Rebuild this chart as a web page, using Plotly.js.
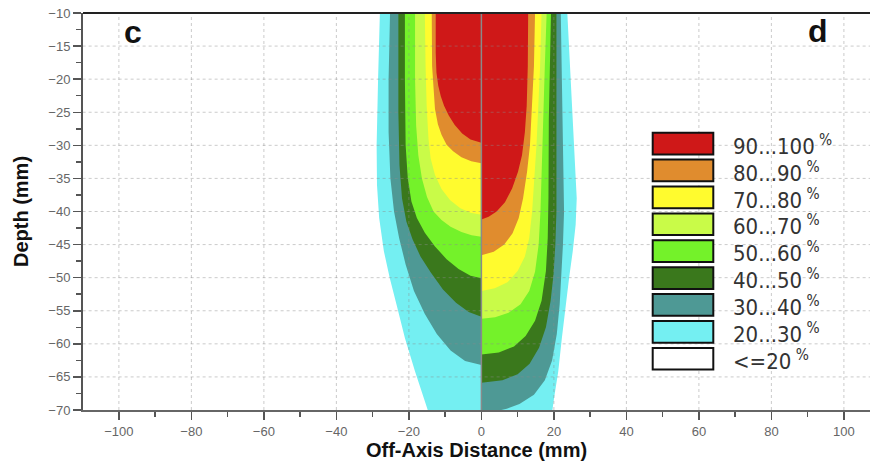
<!DOCTYPE html>
<html>
<head>
<meta charset="utf-8">
<script src="https://cdn.plot.ly/plotly-3.0.1.min.js"></script>
<style>html,body{margin:0;padding:0;background:#fff;}#chart{width:870px;height:464px;}</style>
</head>
<body>
<div id="chart"></div>
<script>
// ---- Legend / levels ----
const levelLabels = ['90...100', '80...90', '70...80', '60...70', '50...60', '40...50', '30...40', '20...30', '<=20'];
const levelColors = ['#cf1818', '#e08c2e', '#fffb2e', '#c9fb48', '#74f22a', '#3a781c', '#4e9995', '#74eff2', '#ffffff'];

// ---- Panel c (left, x<0): isodose boundaries, top -> bottom (x mm, depth mm) ----
const c90x = [-12.6, -12.6, -12.4, -11.9, -11.2, -10.3, -9.0, -7.4, -5.3, -3.0, 0];
const c90y = [-10, -16, -19, -21, -22.6, -24, -25.5, -26.9, -28.2, -29.1, -29.6];
const c80x = [-13.7, -13.6, -13.2, -12.8, -12.0, -11.0, -9.6, -7.8, -5.5, -2.8, 0];
const c80y = [-10, -18, -22, -24.5, -26.8, -28.4, -29.9, -30.9, -31.8, -32.4, -32.7];
const c70x = [-15.6, -15.4, -15.1, -14.6, -14.0, -12.8, -11.0, -8.6, -5.8, -3.0, 0];
const c70y = [-10, -18, -24, -29, -32, -34.5, -36.6, -38.3, -39.5, -40.2, -40.5];
const c60x = [-18.3, -18.3, -18.0, -17.4, -16.4, -15.0, -13.2, -11.0, -8.5, -5.5, -2.7, 0];
const c60y = [-10, -20, -27, -31.5, -35, -37.8, -40, -41.3, -42.3, -43.1, -43.6, -43.8];
const c50x = [-21.1, -21.1, -20.9, -20.3, -19.3, -17.8, -15.6, -12.8, -9.6, -6.3, -3.0, 0];
const c50y = [-10, -20, -30, -35, -38.5, -41, -43.2, -45.3, -47.2, -48.7, -49.7, -50.1];
const c40x = [-22.9, -22.9, -22.6, -21.9, -20.7, -19.0, -16.8, -14.0, -10.6, -7.0, -3.5, 0];
const c40y = [-10, -25, -33, -38, -41.5, -44.2, -46.8, -49.2, -51.8, -53.8, -55.2, -55.9];
const c30x = [-25.2, -25.6, -25.6, -25.1, -24.1, -22.7, -20.9, -18.6, -15.6, -12.3, -8.5, -4.5, 0];
const c30y = [-10, -20, -28, -35, -40, -44, -48, -52, -55.5, -58.5, -61, -62.6, -63.2];
const c20x = [-28.0, -28.5, -28.9, -28.8, -28.2, -26.9, -25.3, -23.4, -21.1, -18.3, -15.1, -14.8];
const c20y = [-10, -20, -30, -36, -41, -46, -50, -54.1, -59.1, -64.2, -69.2, -70];

// ---- Panel d (right, x>0) ----
const d90x = [12.9, 12.8, 12.5, 12.0, 11.2, 10.1, 8.5, 6.5, 4.2, 2.0, 0];
const d90y = [-10, -18, -24, -28, -31.5, -34, -36.5, -38.6, -40, -40.8, -41.2];
const d80x = [14.8, 14.5, 14.0, 13.4, 12.6, 11.5, 10.3, 8.6, 6.3, 3.4, 0];
const d80y = [-10, -18, -24, -30, -34, -38, -41, -43.3, -45, -46.1, -46.6];
const d70x = [16.6, 16.2, 15.7, 15.2, 14.6, 14.0, 13.2, 12.0, 10.0, 7.2, 3.7, 0];
const d70y = [-10, -18, -24, -30, -35, -40, -44, -46.8, -49, -50.7, -51.6, -52];
const d60x = [18.0, 17.5, 17.0, 16.7, 16.3, 15.8, 14.8, 13.2, 10.8, 7.5, 3.8, 0];
const d60y = [-10, -18, -24, -32, -40, -45, -49.1, -52, -54, -55.3, -56, -56.2];
const d50x = [19.2, 18.8, 18.6, 18.5, 18.3, 17.8, 16.6, 14.8, 12.2, 9.0, 4.8, 0];
const d50y = [-10, -18, -26, -38, -44, -49, -53.5, -56.5, -58.8, -60.4, -61.3, -61.6];
const d40x = [20.7, 20.7, 20.4, 19.9, 19.1, 17.8, 15.9, 13.3, 10.0, 5.8, 0];
const d40y = [-10, -40, -45, -49.5, -53.5, -57.5, -60.6, -63, -64.6, -65.5, -65.9];
const d30x = [21.9, 22.3, 22.6, 22.8, 22.5, 22.1, 21.6, 20.8, 19.5, 17.5, 14.5, 10.5, 7.0, 5.5];
const d30y = [-10, -24, -34, -40, -45, -49.5, -54, -58.5, -62.5, -65.5, -67.7, -69.1, -69.8, -70];
const d20x = [23.7, 24.9, 25.8, 26.3, 26.0, 25.2, 24.2, 23.2, 22.2, 21.2, 20.1, 19.6];
const d20y = [-10, -24, -33, -38, -42, -46, -50, -54.1, -59.1, -64.2, -68, -70];

// axis ticks
const xTicks = [-100, -80, -60, -40, -20, 0, 20, 40, 60, 80, 100];
const yTicks = [-70, -65, -60, -55, -50, -45, -40, -35, -30, -25, -20, -15, -10];

const leftSets = [[c20x, c20y], [c30x, c30y], [c40x, c40y], [c50x, c50y], [c60x, c60y], [c70x, c70y], [c80x, c80y], [c90x, c90y]];
const rightSets = [[d20x, d20y], [d30x, d30y], [d40x, d40y], [d50x, d50y], [d60x, d60y], [d70x, d70y], [d80x, d80y], [d90x, d90y]];
const fillColors = levelColors.slice(0, 8).reverse();

function poly(cx, cy, dx, dy) {
  const x = [0].concat(cx), y = [cy[0]].concat(cy);
  if (cx[cx.length - 1] !== 0) { x.push(0); y.push(cy[cy.length - 1]); }
  const rx = dx.slice().reverse(), ry = dy.slice().reverse();
  if (dx[dx.length - 1] !== 0) { rx.unshift(0); ry.unshift(dy[dy.length - 1]); }
  return { x: x.concat(rx), y: y.concat(ry) };
}

const traces = leftSets.map((ls, i) => {
  const p = poly(ls[0], ls[1], rightSets[i][0], rightSets[i][1]);
  return {
    type: 'scatter', mode: 'lines', x: p.x, y: p.y,
    fill: 'toself', fillcolor: fillColors[i],
    line: { width: 0, color: fillColors[i] },
    hoverinfo: 'skip', showlegend: false
  };
});

// geometry helpers for legend placement (paper coordinates)
const L = 83, R = 870, T = 13, B = 410;
const px2x = p => (p - L) / (R - L);
const py2y = p => (B - p) / (B - T);

const shapes = [];
const annotations = [];

// dotted grid drawn above the filled regions
xTicks.filter(v => v !== 0).forEach(v => shapes.push({
  type: 'line', xref: 'x', yref: 'y', x0: v, x1: v, y0: -70, y1: -10, layer: 'above',
  line: { color: 'rgba(140,140,140,0.45)', width: 1, dash: 'dot' }
}));
yTicks.filter(v => v !== -70 && v !== -10).forEach(v => shapes.push({
  type: 'line', xref: 'x', yref: 'y', x0: -110, x1: 110, y0: v, y1: v, layer: 'above',
  line: { color: 'rgba(140,140,140,0.45)', width: 1, dash: 'dot' }
}));
// centre divider between panels c and d
shapes.push({ type: 'line', xref: 'x', yref: 'y', x0: 0, x1: 0, y0: -70, y1: -10, layer: 'above',
  line: { color: '#8a8a8a', width: 1.5 } });
// dark top frame line
shapes.push({ type: 'line', xref: 'paper', yref: 'paper', x0: 0, x1: 1, y0: 1, y1: 1, layer: 'above',
  line: { color: '#222', width: 2 } });

// legend boxes + labels
levelLabels.forEach((lab, i) => {
  const top = 132.7 + i * 26.9, bot = top + 21.7;
  shapes.push({ type: 'rect', xref: 'paper', yref: 'paper', layer: 'above',
    x0: px2x(652.7), x1: px2x(713.3), y0: py2y(bot), y1: py2y(top),
    fillcolor: levelColors[i], line: { color: '#111', width: 2 } });
  annotations.push({ xref: 'paper', yref: 'paper', x: px2x(731), y: py2y(top + 12), xanchor: 'left', yanchor: 'middle',
    text: lab + '<span style="font-size:15px"> </span><sup>%</sup>', showarrow: false,
    font: { family: '"Liberation Sans Narrow", "DejaVu Sans Condensed", "Arial Narrow", sans-serif', size: 22, color: '#333' } });
});

// panel letters
annotations.push({ xref: 'paper', yref: 'paper', x: px2x(133), y: py2y(32), text: '<b>c</b>', showarrow: false,
  xanchor: 'center', yanchor: 'middle', font: { family: 'Liberation Sans, Arial, sans-serif', size: 32, color: '#111' } });
annotations.push({ xref: 'paper', yref: 'paper', x: px2x(818), y: py2y(31), text: '<b>d</b>', showarrow: false,
  xanchor: 'center', yanchor: 'middle', font: { family: 'Liberation Sans, Arial, sans-serif', size: 32, color: '#111' } });

const tickFont = { family: 'Liberation Sans, Arial, sans-serif', size: 13, color: '#666' };

const layout = {
  width: 870, height: 464,
  margin: { l: L, r: 0, t: T, b: 464 - B, pad: 0 },
  paper_bgcolor: '#fff', plot_bgcolor: '#fff',
  showlegend: false,
  xaxis: {
    range: [-109.9, 107.2], tickvals: xTicks, ticks: 'outside', ticklen: 8, tickwidth: 1.5, tickcolor: '#555',
    showgrid: false, zeroline: false, showline: true, linecolor: '#666', linewidth: 2,
    tickfont: tickFont, layer: 'above traces',
    minor: { dtick: 10, tick0: 0, ticks: 'outside', ticklen: 5, tickcolor: '#555', showgrid: false },
    title: { text: '<b>Off-Axis Distance (mm)</b>', standoff: 3, font: { family: 'Liberation Sans, Arial, sans-serif', size: 20, color: '#111' } }
  },
  yaxis: {
    range: [-70, -10], tickvals: yTicks, ticks: 'outside', ticklen: 8, tickwidth: 1.5, tickcolor: '#555',
    showgrid: false, zeroline: false, showline: true, linecolor: '#555', linewidth: 2,
    tickfont: tickFont, layer: 'above traces',
    minor: { dtick: 2.5, tick0: -10, ticks: 'outside', ticklen: 5, tickcolor: '#555', showgrid: false },
    title: { text: '<b>Depth (mm)</b>', standoff: 14, font: { family: 'Liberation Sans, Arial, sans-serif', size: 20, color: '#111' } }
  },
  shapes: shapes,
  annotations: annotations
};

Plotly.newPlot('chart', traces, layout, { staticPlot: true, displayModeBar: false });
</script>
</body>
</html>
